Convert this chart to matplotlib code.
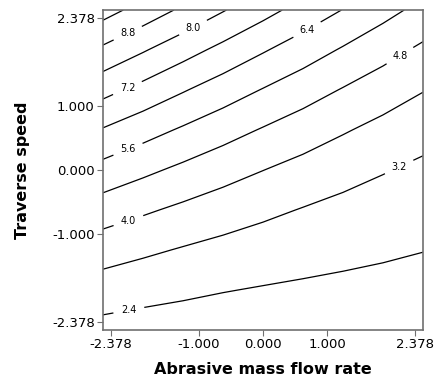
import numpy as np
import matplotlib.pyplot as plt

# coded factor levels of the fitted grid
flow_rate = np.array([-2.5, -1.875, -1.25, -0.625, 0.0, 0.625, 1.25, 1.875, 2.5])
traverse_speed = np.array([-2.5, -1.875, -1.25, -0.625, 0.0, 0.625, 1.25, 1.875, 2.5])

# response on the grid, rows follow traverse_speed, columns follow flow_rate
response = np.array([
    [2.15, 2.07, 2.02, 1.98, 1.97, 1.98, 2.01, 2.07, 2.14],
    [2.81, 2.66, 2.54, 2.43, 2.35, 2.29, 2.25, 2.23, 2.23],
    [3.56, 3.34, 3.14, 2.97, 2.81, 2.68, 2.57, 2.48, 2.41],
    [4.40, 4.11, 3.84, 3.59, 3.37, 3.16, 2.98, 2.82, 2.68],
    [5.33, 4.97, 4.63, 4.31, 4.01, 3.74, 3.48, 3.25, 3.04],
    [6.34, 5.91, 5.50, 5.11, 4.74, 4.40, 4.07, 3.77, 3.49],
    [7.45, 6.95, 6.46, 6.00, 5.56, 5.15, 4.75, 4.38, 4.03],
    [8.64, 8.07, 7.51, 6.98, 6.47, 5.99, 5.52, 5.08, 4.65],
    [9.93, 9.28, 8.66, 8.05, 7.47, 6.91, 6.38, 5.86, 5.37],
])

levels = [2.4, 3.2, 4.0, 4.8, 5.6, 6.4, 7.2, 8.0, 8.8, 9.6]
label_levels = [2.4, 3.2, 4.0, 4.8, 5.6, 6.4, 7.2, 8.0, 8.8]
label_pos = [(-2.10, -2.17), (2.13, 0.04), (-2.10, -0.80), (2.15, 1.77),
             (-2.10, 0.30), (0.69, 2.19), (-2.10, 1.24), (-1.08, 2.20),
             (-2.10, 2.11)]

tick_vals = [-2.378, -1.0, 0.0, 1.0, 2.378]
tick_text = ['%.3f' % v for v in tick_vals]

fig = plt.figure(figsize=(4.35, 3.83), dpi=100)
ax = fig.add_axes([0.2368, 0.1384, 0.7356, 0.8355])

cs = ax.contour(flow_rate, traverse_speed, response, levels=levels,
                colors='black', linewidths=0.9)
labels = ax.clabel(cs, levels=label_levels, fmt='%.1f', fontsize=7,
                   manual=label_pos, inline=True, inline_spacing=8)
for t in labels:
    t.set_rotation(0)

ax.set_xlim(-2.5, 2.5)
ax.set_ylim(-2.5, 2.5)
ax.set_xticks(tick_vals)
ax.set_xticklabels(tick_text)
ax.set_yticks(tick_vals)
ax.set_yticklabels(tick_text)
ax.tick_params(direction='out', length=4, width=0.8, color='#707070',
               labelsize=9.5, pad=2)
for sp in ax.spines.values():
    sp.set_color('#707070')
    sp.set_linewidth(1.2)

ax.set_xlabel('Abrasive mass flow rate', fontsize=11.5, fontweight='bold',
              labelpad=8)
ax.set_ylabel('Traverse speed', fontsize=11.5, fontweight='bold',
              labelpad=16)

fig.savefig('out.png', dpi=100)
